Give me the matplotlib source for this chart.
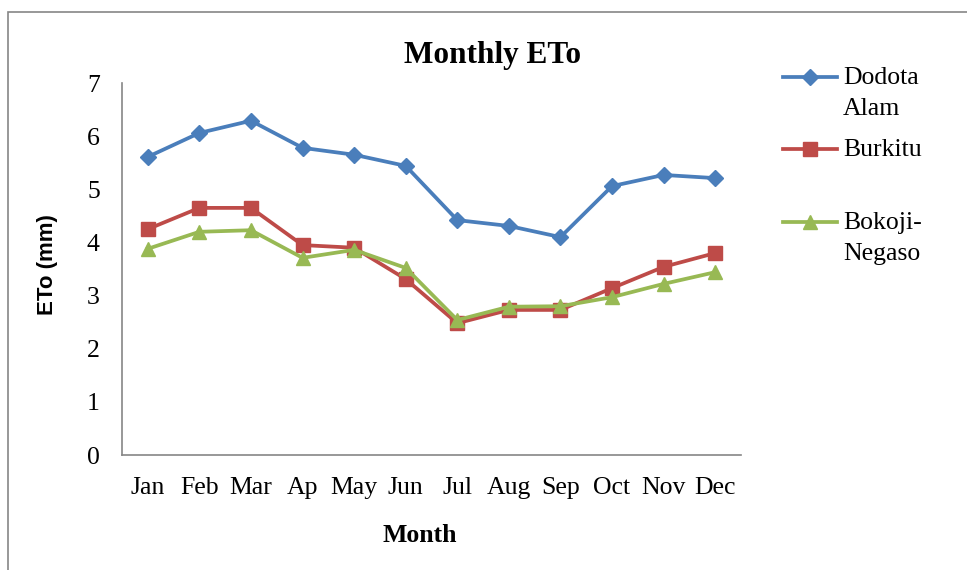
import numpy as np
import matplotlib
matplotlib.use("Agg")
import matplotlib.pyplot as plt
from matplotlib.lines import Line2D
from matplotlib.patches import Rectangle

# データ
months = ["Jan", "Feb", "Mar", "Ap", "May", "Jun", "Jul", "Aug", "Sep", "Oct", "Nov", "Dec"]
dodota = [5.61, 6.06, 6.29, 5.78, 5.65, 5.44, 4.42, 4.31, 4.10, 5.06, 5.27, 5.21]
burkitu = [4.25, 4.65, 4.65, 3.95, 3.90, 3.31, 2.48, 2.73, 2.73, 3.14, 3.54, 3.80]
bokoji = [3.88, 4.20, 4.23, 3.71, 3.86, 3.52, 2.54, 2.79, 2.80, 2.97, 3.22, 3.44]
names = ["Dodota\nAlam", "Burkitu", "Bokoji-\nNegaso"]

plt.rcParams['font.family'] = ['Liberation Serif', 'DejaVu Serif']

W, H = 967, 570
fig = plt.figure(figsize=(W / 100, H / 100), dpi=100)

# 外枠
fig.add_artist(Rectangle((8 / W, -0.1), 1.2, (H - 12) / H + 0.1, transform=fig.transFigure,
                         fill=False, edgecolor='#868686', lw=1.2))

ax = fig.add_axes([122 / W, (H - 455) / H, (741 - 122) / W, (455 - 83) / H])
x = np.arange(len(months))

styles = [
    (dodota, '#4A7EBB', 'D', 8.5),
    (burkitu, '#BE4B48', 's', 9.5),
    (bokoji, '#98B954', '^', 10.5),
]
for vals, c, m, ms in styles:
    ax.plot(x, vals, color=c, lw=2.7, marker=m, markersize=ms, markerfacecolor=c, markeredgecolor=c)

ax.set_xlim(-0.5, len(months) - 0.5)
ax.set_ylim(0, 7)
ax.set_xticks(x)
ax.set_xticklabels(months, fontsize=18.5)
ax.set_yticks(range(8))
ax.tick_params(axis='x', length=0, pad=16)
ax.tick_params(axis='y', length=0, pad=16, labelsize=18.5)
for s in ['top', 'right']:
    ax.spines[s].set_visible(False)
for s in ['left', 'bottom']:
    ax.spines[s].set_color('#868686')
    ax.spines[s].set_linewidth(1.2)

fig.text(493 / W, 1 - 55 / H, "Monthly ETo", fontsize=22.5, fontweight='bold', ha='center', va='center')
fig.text(420 / W, 1 - 535 / H, "Month", fontsize=18.5, fontweight='bold', ha='center', va='center')
fig.text(47 / W, 1 - 265 / H, "ETo (mm)", fontsize=16, fontweight='bold', ha='center', va='center',
         rotation=90, family='Liberation Sans')

# 凡例（手書き）
leg_y = [77, 149, 222]
for (vals, c, m, ms), name, yy in zip(styles, names, leg_y):
    yf = 1 - yy / H
    fig.add_artist(Line2D([783 / W, 837 / W], [yf, yf], transform=fig.transFigure, color=c, lw=2.7))
    fig.add_artist(Line2D([810 / W], [yf], transform=fig.transFigure, color=c, marker=m, markersize=ms))
    lines = name.split("\n")
    for i, t in enumerate(lines):
        fig.text(843 / W, 1 - (yy + 1 + i * 31) / H, t, fontsize=18.5, ha='left', va='center')

fig.savefig("out.png", dpi=100)
